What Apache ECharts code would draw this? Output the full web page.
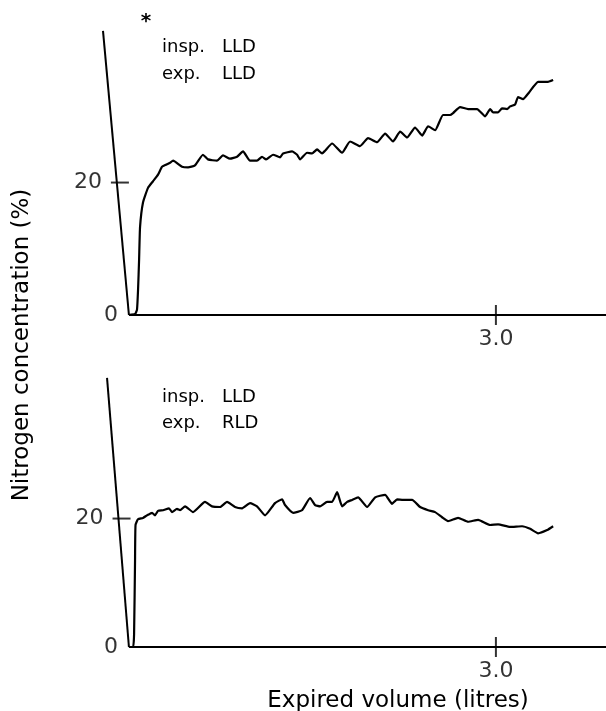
<!DOCTYPE html>
<html><head><meta charset="utf-8">
<script src="https://cdn.jsdelivr.net/npm/echarts@6/dist/echarts.min.js"></script>
<style>html,body{margin:0;padding:0;background:#fff}#c{width:606px;height:711px}</style>
</head><body><div id="c"></div>
<script>
// ---- data ----
const topX = [0,0.05,0.066,0.075,0.083,0.091,0.115,0.156,0.197,0.238,0.271,0.303,0.336,0.361,0.434,0.483,0.540,0.605,0.646,0.720,0.769,0.826,0.884,0.933,0.990,1.047,1.088,1.121,1.178,1.236,1.260,1.334,1.375,1.399,1.456,1.497,1.538,1.579,1.603,1.661,1.742,1.808,1.889,1.955,2.029,2.094,2.159,2.217,2.274,2.339,2.397,2.446,2.503,2.568,2.625,2.650,2.707,2.773,2.846,2.912,2.953,2.977,3.018,3.050,3.091,3.116,3.157,3.181,3.222,3.271,3.345,3.419,3.468];
const topY = [0,0.15,0.8,4,8.3,13.3,17.0,19.2,20.2,21.2,22.4,22.7,23.0,23.3,22.4,22.3,22.6,24.2,23.5,23.3,24.1,23.6,23.9,24.7,23.3,23.3,23.9,23.5,24.2,23.8,24.4,24.7,24.2,23.5,24.5,24.4,25.0,24.4,24.8,25.9,24.5,26.2,25.5,26.7,26.1,27.4,26.2,27.7,26.8,28.3,27.1,28.5,27.9,30.2,30.2,30.5,31.4,31.1,31.1,30.0,31.1,30.6,30.6,31.2,31.1,31.5,31.8,32.9,32.6,33.6,35.2,35.2,35.5];
const botX = [0,0.034,0.042,0.050,0.054,0.074,0.115,0.148,0.189,0.213,0.238,0.279,0.328,0.352,0.393,0.418,0.459,0.524,0.622,0.679,0.745,0.802,0.867,0.925,0.990,1.047,1.113,1.194,1.252,1.276,1.342,1.415,1.481,1.522,1.563,1.620,1.661,1.702,1.743,1.784,1.824,1.873,1.947,2.013,2.094,2.151,2.192,2.241,2.315,2.380,2.446,2.503,2.560,2.609,2.691,2.773,2.855,2.953,3.018,3.116,3.214,3.280,3.345,3.419,3.468];
const botY = [0,0,1.9,13.5,19.0,19.9,20.1,20.5,20.9,20.5,21.2,21.3,21.6,21.0,21.5,21.3,21.9,21.0,22.6,21.9,21.8,22.6,21.8,21.6,22.4,21.9,20.5,22.4,23.0,22.1,20.9,21.3,23.2,22.1,21.9,22.6,22.6,24.1,21.9,22.6,22.9,23.3,21.8,23.3,23.7,22.3,23.0,22.9,22.9,21.8,21.3,21.0,20.2,19.6,20.1,19.5,19.8,19.0,19.1,18.7,18.8,18.4,17.7,18.2,18.8];
// slanted axis lines [x at top, y at top] -> (0,0)
const topSlant = [[-0.212, 42.9], [0, 0]];
const botSlant = [[-0.179, 41.9], [0, 0]];
const xTicks = [3.0];
const xTickLabels = ['3.0'];
const yTicks = [0, 20];
const yTickLabels = ['0', '20'];
const xEnd = 3.9;
const topLabels = [['insp.', 'LLD'], ['exp.', 'LLD']];
const botLabels = [['insp.', 'LLD'], ['exp.', 'RLD']];
const xTitle = 'Expired volume (litres)';
const yTitle = 'Nitrogen concentration (%)';

// ---- chart ----
const INK = '#000';
const FONT = 'DejaVu Sans';
const zip = (a, b) => a.map((v, i) => [v, b[i]]);
const chart = echarts.init(document.getElementById('c'), null, {renderer: 'canvas'});

function panelSeries(gi, slant, xs, ys) {
  const slantX = v => slant[0][0] * v / slant[0][1];
  const tickOff = 0.025;
  return [
    {type: 'line', xAxisIndex: gi, yAxisIndex: gi, data: slant, symbol: 'none', clip: false,
     lineStyle: {color: INK, width: 2}, silent: true},
    {type: 'line', xAxisIndex: gi, yAxisIndex: gi, data: [[0, 0], [xEnd, 0]], symbol: 'none', clip: false,
     lineStyle: {color: INK, width: 2}, silent: true},
    {type: 'line', xAxisIndex: gi, yAxisIndex: gi, data: zip(xs, ys), symbol: 'none', clip: false,
     smooth: 0.15, lineStyle: {color: INK, width: 2.2}, silent: true},
    // y ticks + labels
    {type: 'scatter', xAxisIndex: gi, yAxisIndex: gi, silent: true, clip: false,
     data: yTicks.map((t, i) => ({value: [slantX(t) + (t === 0 ? 0 : tickOff), t],
       symbolSize: t === 0 ? [0, 0] : [18, 2],
       label: {show: true, formatter: yTickLabels[i], position: 'left', distance: t === 0 ? 11 : 9,
         color: INK, fontFamily: FONT, fontSize: 22}})),
     symbol: 'rect', itemStyle: {color: INK}},
    // x ticks + labels
    {type: 'scatter', xAxisIndex: gi, yAxisIndex: gi, silent: true, clip: false,
     data: xTicks.map((t, i) => ({value: [t, 0],
       label: {show: true, formatter: xTickLabels[i], position: 'bottom', distance: 3,
         color: INK, fontFamily: FONT, fontSize: 22}})),
     symbol: 'rect', symbolSize: [2, 20], itemStyle: {color: INK}}
  ];
}

function txt(x, y, text, size) {
  return {type: 'text', x: x, y: y, silent: true,
    style: {text: text, fill: INK, font: size + 'px "' + FONT + '"', textAlign: 'left', textVerticalAlign: 'middle'}};
}

const graphics = [];
[[topLabels, 47, 74], [botLabels, 397, 423]].forEach(([lbls, y1, y2]) => {
  [y1, y2].forEach((y, i) => {
    graphics.push(txt(162, y, lbls[i][0], 18));
    graphics.push(txt(222, y, lbls[i][1], 18));
  });
});
graphics.push({type: 'text', x: 398, y: 701, silent: true,
  style: {text: xTitle, fill: INK, font: '23px "' + FONT + '"', textAlign: 'center', textVerticalAlign: 'middle'}});
graphics.push({type: 'text', x: 22, y: 345, rotation: Math.PI / 2, silent: true,
  style: {text: yTitle, fill: INK, font: '23px "' + FONT + '"', textAlign: 'center', textVerticalAlign: 'middle'}});
graphics.push({type: 'text', x: 146, y: 22, silent: true,
  style: {text: '*', fill: INK, font: 'bold 20px "' + FONT + '"', textAlign: 'center', textVerticalAlign: 'middle'}});

const hiddenX = {type: 'value', min: -0.4, max: xEnd, axisLine: {show: false}, axisTick: {show: false},
  axisLabel: {show: false}, splitLine: {show: false}};
const hiddenY = {type: 'value', min: 0, max: 45, axisLine: {show: false}, axisTick: {show: false},
  axisLabel: {show: false}, splitLine: {show: false}};

chart.setOption({
  animation: false,
  backgroundColor: '#fff',
  grid: [
    {left: 80, right: 0, top: 17, height: 298},
    {left: 80, right: 0, top: 358, height: 289}
  ],
  xAxis: [Object.assign({gridIndex: 0}, hiddenX), Object.assign({gridIndex: 1}, hiddenX)],
  yAxis: [Object.assign({gridIndex: 0}, hiddenY), Object.assign({gridIndex: 1}, hiddenY)],
  series: panelSeries(0, topSlant, topX, topY).concat(panelSeries(1, botSlant, botX, botY)),
  graphic: graphics
});
</script>
</body></html>
